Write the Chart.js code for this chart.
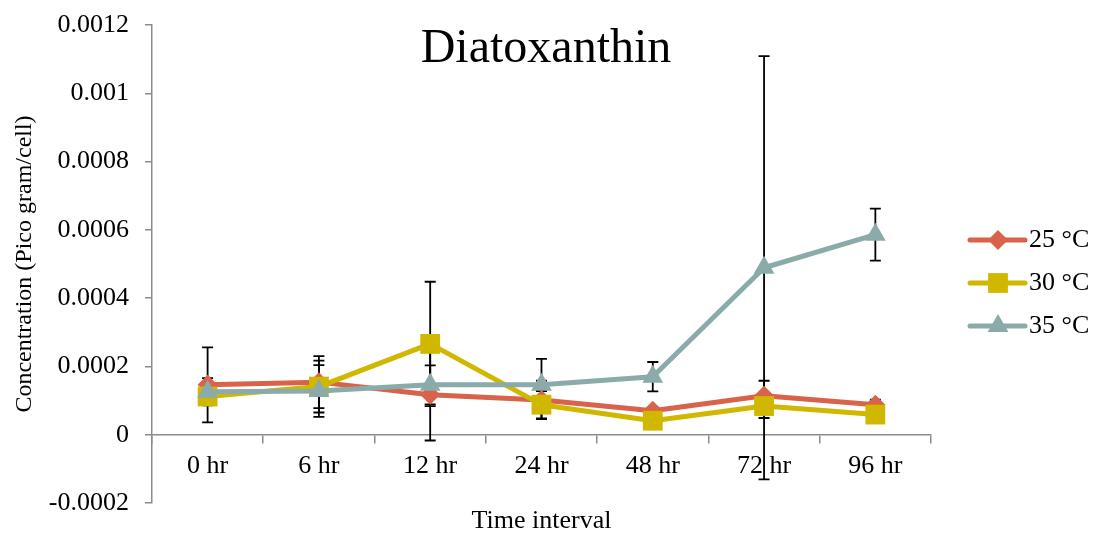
<!DOCTYPE html>
<html>
<head>
<meta charset="utf-8">
<script src="https://cdn.jsdelivr.net/npm/chart.js@4/dist/chart.umd.min.js"></script>
<style>
  html, body { margin: 0; padding: 0; background: #fff; }
  #wrap { width: 1094px; height: 536px; }
</style>
</head>
<body>
<div id="wrap"><canvas id="grafik"></canvas></div>
<script>
// values (pico gram per cell)
const timeLabels = ['0 hr', '6 hr', '12 hr', '24 hr', '48 hr', '72 hr', '96 hr'];
const seriesNames = ['25 °C', '30 °C', '35 °C'];
const temp25 = [0.000146, 0.000154, 0.000117, 0.000102, 0.000070, 0.000114, 0.000088];
const temp30 = [0.000112, 0.000141, 0.000266, 0.000088, 0.000041, 0.000084, 0.000059];
const temp35 = [0.000126, 0.000128, 0.000146, 0.000146, 0.000170, 0.000489, 0.000586];
// error bar half lengths
const err25 = [0.000110, 0.000076, 0.000134, 0.000056, 0.000010, 0.000044, 0.000015];
const err30 = [0.000010, 0.000076, 0.000182, 0.000040, 0.000010, 0.000035, 0.000010];
const err35 = [0.000040, 0.000076, 0.000057, 0.000076, 0.000043, 0.000620, 0.000076];
const yTicks = [-0.0002, 0, 0.0002, 0.0004, 0.0006, 0.0008, 0.001, 0.0012];

const colors = ['#D8634A', '#D0B800', '#8AABAA'];
const styles = ['rectRot', 'rect', 'triangle'];
const radii = [10, 14, 12];
const serif = 'Liberation Serif';
const axisGray = '#8c8c8c';

window.onload = function () {
    const grf = document.getElementById('grafik').getContext('2d');

    ////////////// error bars, drawn under the lines //////////////
    const errorBars = {
        id: 'errorBars',
        beforeDatasetsDraw(chart) {
            const ctx = chart.ctx;
            const yScale = chart.scales.y;
            const errs = [err25, err30, err35];
            ctx.save();
            ctx.strokeStyle = '#000';
            ctx.lineWidth = 1.8;
            chart.data.datasets.forEach((ds, i) => {
                const meta = chart.getDatasetMeta(i);
                meta.data.forEach((pt, j) => {
                    const top = yScale.getPixelForValue(ds.data[j] + errs[i][j]);
                    const bot = yScale.getPixelForValue(ds.data[j] - errs[i][j]);
                    ctx.beginPath();
                    ctx.moveTo(pt.x, top); ctx.lineTo(pt.x, bot);
                    ctx.moveTo(pt.x - 5.5, top); ctx.lineTo(pt.x + 5.5, top);
                    ctx.moveTo(pt.x - 5.5, bot); ctx.lineTo(pt.x + 5.5, bot);
                    ctx.stroke();
                });
            });
            ctx.restore();
        }
    };

    ////////////// title + legend on the right //////////////
    const extras = {
        id: 'extras',
        afterDraw(chart) {
            const ctx = chart.ctx;
            const area = chart.chartArea;
            ctx.save();
            ctx.fillStyle = '#000';
            ctx.font = '48px "' + serif + '"';
            ctx.textAlign = 'center';
            ctx.textBaseline = 'alphabetic';
            ctx.fillText('Diatoxanthin', 546, 62);

            const midY = (area.top + area.bottom) / 2 + 19;
            const x0 = area.right + 39;
            chart.data.datasets.forEach((ds, i) => {
                const y = midY + (i - 1) * 43;
                ctx.strokeStyle = ds.borderColor;
                ctx.lineWidth = 5;
                ctx.lineCap = 'round';
                ctx.beginPath();
                ctx.moveTo(x0, y); ctx.lineTo(x0 + 55, y);
                ctx.stroke();
                ctx.fillStyle = ds.backgroundColor;
                Chart.helpers.drawPoint(ctx, {
                    pointStyle: ds.pointStyle, radius: ds.pointRadius, rotation: 0, borderWidth: 0
                }, x0 + 28, y);
                ctx.fillStyle = '#000';
                ctx.font = '26px "' + serif + '"';
                ctx.textAlign = 'left';
                ctx.textBaseline = 'middle';
                ctx.fillText(ds.label, x0 + 59, y);
            });
            ctx.restore();
        }
    };

    const dataSets = [temp25, temp30, temp35].map((vals, i) => ({
        label: seriesNames[i],
        data: vals,
        borderColor: colors[i],
        backgroundColor: colors[i],
        borderWidth: 5,
        borderJoinStyle: 'round',
        tension: 0,
        pointStyle: styles[i],
        pointRadius: radii[i],
        pointHoverRadius: radii[i],
        pointBorderWidth: 0,
        order: 2 - i
    }));

    new Chart(grf, {
        type: 'line',
        data: { labels: timeLabels, datasets: dataSets },
        options: {
            responsive: true,
            maintainAspectRatio: false,
            animation: false,
            layout: { padding: { left: 0, right: 163, top: 25, bottom: 33 } },
            plugins: {
                legend: { display: false },
                tooltip: { enabled: false }
            },
            scales: {
                x: {
                    position: { y: 0 },
                    offset: true,
                    grid: { offset: true, drawOnChartArea: false, tickLength: 8, color: axisGray, lineWidth: 1.5 },
                    border: { color: axisGray, width: 1.5 },
                    ticks: { font: { family: serif, size: 26 }, color: '#000', padding: 8, maxRotation: 0, autoSkip: false },
                    title: {
                        display: true, text: 'Time interval', color: '#000',
                        font: { family: serif, size: 26 }, padding: { top: 16, bottom: 0 }
                    }
                },
                y: {
                    min: -0.0002,
                    max: 0.0012,
                    afterBuildTicks: axis => { axis.ticks = yTicks.map(v => ({ value: v })); },
                    afterFit: axis => { axis.paddingTop = 0; axis.paddingBottom = 0; },
                    grid: { drawOnChartArea: false, tickLength: 7, color: axisGray, lineWidth: 1.5 },
                    border: { color: axisGray, width: 1.5 },
                    ticks: {
                        font: { family: serif, size: 26 }, color: '#000', padding: 16,
                        callback: v => String(Number(v.toFixed(4)))
                    },
                    title: {
                        display: true, text: 'Concentration (Pico gram/cell)', color: '#000',
                        font: { family: serif, size: 24 }, padding: { top: 10, bottom: -6 }
                    }
                }
            }
        },
        plugins: [errorBars, extras]
    });
};
</script>
</body>
</html>
